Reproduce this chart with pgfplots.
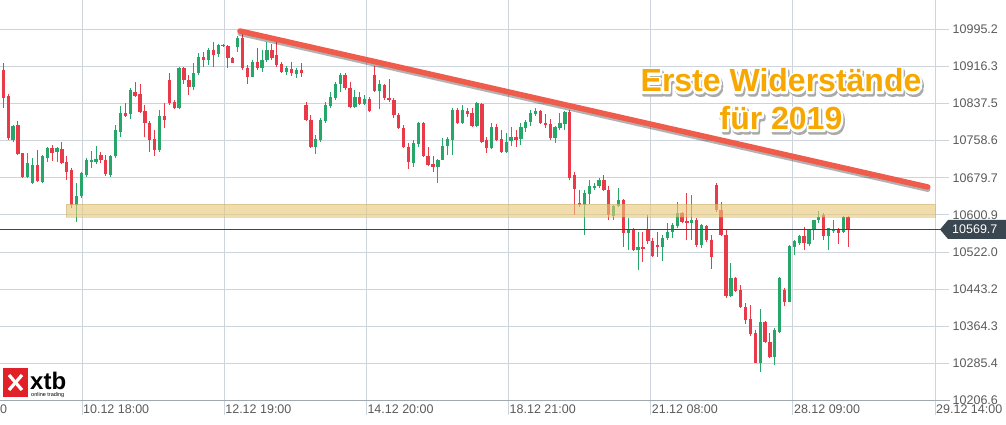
\documentclass[border=0pt]{standalone}
\usepackage{fontspec}
\setmainfont{Liberation Sans}
\usepackage{pgfplots}
\pgfplotsset{compat=1.18}
\usepackage{pgfplotstable}
\definecolor{cgreen}{RGB}{38,166,105}
\definecolor{cred}{RGB}{232,58,72}
\definecolor{cgrid}{RGB}{205,212,220}
\definecolor{caxis}{RGB}{160,168,176}
\definecolor{clabel}{RGB}{90,90,90}
\definecolor{cprice}{RGB}{58,70,80}
\definecolor{ctrend}{RGB}{240,92,76}
\definecolor{cband}{RGB}{232,200,120}
\definecolor{corange}{RGB}{247,168,0}
\definecolor{cshadow}{RGB}{170,170,170}
\definecolor{cxtb}{RGB}{226,32,40}

\pgfplotstableread{
x O H L C
3 10760 10791 10755 10790
6 10682 10732 10679 10711
7 10668 10721 10666 10707
9 10671 10728 10668 10725
10 10721 10746 10713 10742
12 10734 10746 10714 10742
16 10622 10668 10586 10642
17 10640 10692 10637 10689
18 10686 10721 10682 10718
19 10713 10737 10701 10718
20 10713 10748 10708 10720
23 10686 10728 10682 10725
24 10725 10792 10721 10781
25 10776 10833 10767 10817
27 10815 10870 10805 10866
33 10739 10824 10735 10810
37 10827 10915 10825 10912
40 10873 10923 10866 10902
41 10902 10944 10898 10937
43 10929 10955 10919 10951
45 10942 10965 10937 10962
49 10958 10980 10946 10976
52 10894 10930 10893 10926
54 10913 10951 10905 10930
55 10930 10969 10926 10951
59 10905 10917 10898 10912
61 10901 10912 10891 10909
65 10746 10771 10730 10762
66 10760 10806 10756 10802
67 10801 10841 10797 10835
68 10833 10863 10827 10852
69 10850 10884 10845 10880
70 10878 10902 10863 10898
73 10831 10866 10829 10852
75 10837 10856 10835 10847
78 10864 10888 10825 10880
85 10712 10760 10702 10753
86 10751 10799 10746 10797
90 10703 10719 10669 10717
91 10718 10764 10718 10747
92 10747 10767 10728 10762
93 10761 10827 10728 10824
95 10796 10835 10794 10824
98 10790 10841 10787 10838
101 10742 10797 10740 10788
104 10735 10774 10733 10756
105 10758 10787 10747 10767
107 10762 10796 10749 10788
108 10786 10803 10778 10799
109 10798 10824 10790 10817
110 10816 10827 10811 10822
114 10764 10790 10754 10787
115 10785 10817 10781 10796
116 10795 10822 10781 10820
120 10622 10654 10558 10647
121 10645 10675 10625 10662
122 10657 10668 10654 10663
123 10662 10679 10657 10675
126 10599 10621 10590 10620
127 10620 10657 10617 10632
129 10562 10594 10526 10569
131 10526 10565 10484 10533
136 10532 10558 10503 10551
137 10551 10583 10547 10565
138 10565 10583 10551 10579
139 10578 10629 10572 10604
142 10584 10643 10548 10589
144 10537 10582 10530 10579
150 10429 10498 10427 10466
156 10287 10400 10267 10374
159 10298 10360 10282 10356
160 10352 10468 10349 10466
162 10416 10537 10415 10535
163 10533 10547 10516 10546
164 10542 10558 10537 10555
166 10540 10570 10534 10569
167 10568 10591 10547 10590
168 10589 10610 10584 10597
170 10555 10574 10526 10572
171 10566 10591 10563 10571
173 10564 10598 10562 10596
}\greendata

\pgfplotstableread{
x O H L C
1 10909 10923 10827 10849
2 10854 10857 10760 10764
4 10792 10800 10728 10730
5 10732 10733 10680 10682
8 10707 10739 10671 10673
11 10742 10749 10715 10732
13 10740 10755 10708 10711
14 10714 10725 10675 10693
15 10696 10700 10616 10622
21 10728 10735 10711 10718
22 10718 10728 10684 10687
26 10817 10838 10809 10812
28 10861 10883 10852 10854
29 10857 10878 10817 10820
30 10822 10835 10767 10796
31 10797 10800 10735 10760
32 10762 10781 10725 10739
34 10810 10838 10785 10803
35 10888 10902 10835 10838
36 10841 10845 10826 10827
38 10912 10915 10880 10887
39 10888 10898 10856 10873
42 10937 10948 10915 10929
44 10952 10969 10915 10941
46 10962 10965 10958 10959
47 10959 10962 10912 10934
48 10934 10937 10923 10924
50 10977 10992 10909 10912
51 10914 10919 10880 10894
53 10926 10955 10909 10912
56 10951 10965 10931 10934
57 10940 10969 10915 10919
58 10922 10926 10903 10905
60 10911 10926 10896 10902
62 10909 10923 10894 10902
63 10835 10841 10801 10802
64 10803 10813 10744 10746
71 10898 10902 10867 10870
72 10870 10884 10827 10831
74 10852 10863 10834 10837
76 10847 10852 10820 10822
77 10898 10917 10862 10864
79 10877 10880 10845 10849
80 10850 10889 10841 10844
81 10844 10849 10806 10813
82 10813 10818 10783 10785
83 10785 10792 10744 10746
84 10746 10753 10698 10714
87 10796 10798 10724 10727
88 10727 10746 10705 10707
89 10710 10725 10693 10702
94 10824 10827 10794 10796
96 10822 10827 10809 10815
97 10818 10827 10788 10790
99 10837 10839 10753 10756
100 10760 10767 10732 10742
102 10788 10794 10758 10760
103 10762 10781 10733 10735
106 10767 10781 10746 10761
111 10822 10824 10794 10796
112 10797 10815 10785 10792
113 10793 10804 10761 10764
117 10820 10824 10675 10679
118 10686 10693 10601 10655
119 10627 10654 10618 10621
124 10675 10686 10652 10654
125 10654 10662 10590 10601
128 10632 10634 10533 10562
130 10570 10574 10525 10526
132 10533 10565 10501 10528
133 10569 10601 10540 10545
134 10545 10552 10512 10513
135 10537 10565 10511 10532
140 10604 10608 10583 10586
141 10588 10648 10547 10584
143 10589 10594 10533 10537
145 10577 10580 10543 10547
146 10548 10558 10486 10511
147 10664 10669 10607 10611
148 10611 10629 10556 10558
149 10558 10569 10424 10428
151 10466 10469 10437 10440
152 10442 10452 10404 10406
153 10406 10413 10369 10377
154 10380 10409 10343 10348
155 10350 10356 10285 10287
157 10374 10376 10329 10331
158 10331 10349 10296 10298
161 10442 10445 10407 10416
165 10555 10576 10526 10541
169 10600 10604 10547 10555
172 10571 10573 10540 10563
174 10596 10598 10533 10569.7
}\reddata

\newfontfamily\bannerfont{Liberation Sans}
\newcommand{\bannerfnt}{\bannerfont\bfseries\fontsize{32bp}{38bp}\selectfont}
% stroked (outline) text via PDF text render mode 1
\newcommand{\stroked}[2]{\special{pdf:literal direct 1 Tr #1 w 1 j 1 J}#2\special{pdf:literal direct 0 Tr}}
\newcommand{\banner}[3]{%
  \node[anchor=base, inner sep=0pt, text=cshadow, font=\bannerfnt] at (#1bp+1.5bp,#2bp-2.5bp) {\stroked{4.5}{#3}};
  \node[anchor=base, inner sep=0pt, text=white, font=\bannerfnt] at (#1bp,#2bp) {\stroked{4.5}{#3}};
  \node[anchor=base, inner sep=0pt, text=corange, font=\bannerfnt] at (#1bp,#2bp) {#3};
}

\begin{document}
\begin{tikzpicture}
\useasboundingbox (0bp,0bp) rectangle (1006bp,425bp);
\begin{axis}[at={(0bp,24bp)}, anchor=south west, scale only axis,
  width=935bp, height=401bp,
  xmin=0.324, xmax=191.8, ymin=10205.3, ymax=11057.5, clip=false,
  axis line style={draw=none},
  xtick={17.11,46.23,75.34,104.46,133.57,162.69,191.8},
  xticklabels={10.12 18:00,12.12 19:00,14.12 20:00,18.12 21:00,21.12 08:00,28.12 09:00,29.12 14:00},
  ytick={10206.6,10285.4,10364.3,10443.2,10522.0,10600.9,10679.7,10758.6,10837.5,10916.3,10995.2},
  yticklabels={10206.6,10285.4,10364.3,10443.2,10522.0,10600.9,10679.7,10758.6,10837.5,10916.3,10995.2},
  grid=major, grid style={draw=cgrid, line width=0.9bp},
  tick align=outside, major tick length=14bp,
  tick style={draw=cgrid, line width=0.9bp},
  xtick pos=left, ytick pos=right, yticklabel pos=right,
  ticklabel style={font=\fontsize{12.5bp}{15bp}\selectfont, text=clabel},
  xticklabel style={anchor=north west, inner sep=1bp, yshift=11bp},
  yticklabel style={anchor=west, inner sep=1bp, xshift=2.5bp},
]
% wicks and bodies
\addplot[cgreen, line width=1bp, quiver={u=0,v=\thisrow{H}-\thisrow{L}}] table[x=x,y=L]{\greendata};
\addplot[cgreen, line width=3.3bp, quiver={u=0,v=\thisrow{C}-\thisrow{O}}] table[x=x,y=O]{\greendata};
\addplot[cred, line width=1bp, quiver={u=0,v=\thisrow{H}-\thisrow{L}}] table[x=x,y=L]{\reddata};
\addplot[cred, line width=3.3bp, quiver={u=0,v=\thisrow{C}-\thisrow{O}}] table[x=x,y=O]{\reddata};
% support band
\fill[cband, fill opacity=0.62] (axis cs:13.84,10596.3) rectangle (axis cs:191.8,10623.9);
\draw[cband!80!black, opacity=0.35, line width=0.8bp] (axis cs:13.84,10596.3) rectangle (axis cs:191.8,10623.9);
% bottom axis line
\draw[caxis, line width=1bp] (axis cs:0.324,10206.6) -- ([xshift=15bp]axis cs:191.8,10206.6);
% current price line
\draw[cprice, line width=0.8bp] (axis cs:0.324,10569.7) -- ([xshift=6bp]axis cs:191.8,10569.7);
% trend line
\draw[black, opacity=0.3, line width=5bp, line cap=round] ([yshift=-2.5bp]axis cs:49.46,10991.6) -- ([yshift=-2.5bp]axis cs:190.33,10660.1);
\draw[ctrend, line width=5.5bp, line cap=round] (axis cs:49.46,10991.6) -- (axis cs:190.33,10660.1);
% partially visible first date label
\node[anchor=north west, inner sep=1bp, font=\fontsize{12.5bp}{15bp}\selectfont, text=clabel] at ([yshift=-3bp]axis cs:-12.0,10206.6) {07.12 17:00};
\end{axis}
% price tag
\fill[cprice] (940bp,195.5bp) -- (948bp,205bp) -- (1006bp,205bp) -- (1006bp,186bp) -- (948bp,186bp) -- cycle;
\node[anchor=west, inner sep=0pt, text=white, font=\fontsize{12.5bp}{15bp}\selectfont] at (952bp,195.5bp) {10569.7};
% banner text
\banner{781}{333}{Erste Widerstände}
\banner{781}{295}{für 2019}
% logo
\fill[cxtb] (3bp,28bp) rectangle (28bp,57bp);
\draw[white, line width=3.2bp] (9bp,35bp) -- (22bp,50bp);
\draw[white, line width=3.2bp] (9bp,50bp) -- (22bp,35bp);
\node[anchor=base west, inner sep=0pt, font=\bfseries\fontsize{24bp}{26bp}\selectfont] at (30bp,35.5bp) {xtb};
\node[anchor=base west, inner sep=0pt, font=\fontsize{5.5bp}{6bp}\selectfont] at (31bp,28.5bp) {online trading};
\end{tikzpicture}
\end{document}
